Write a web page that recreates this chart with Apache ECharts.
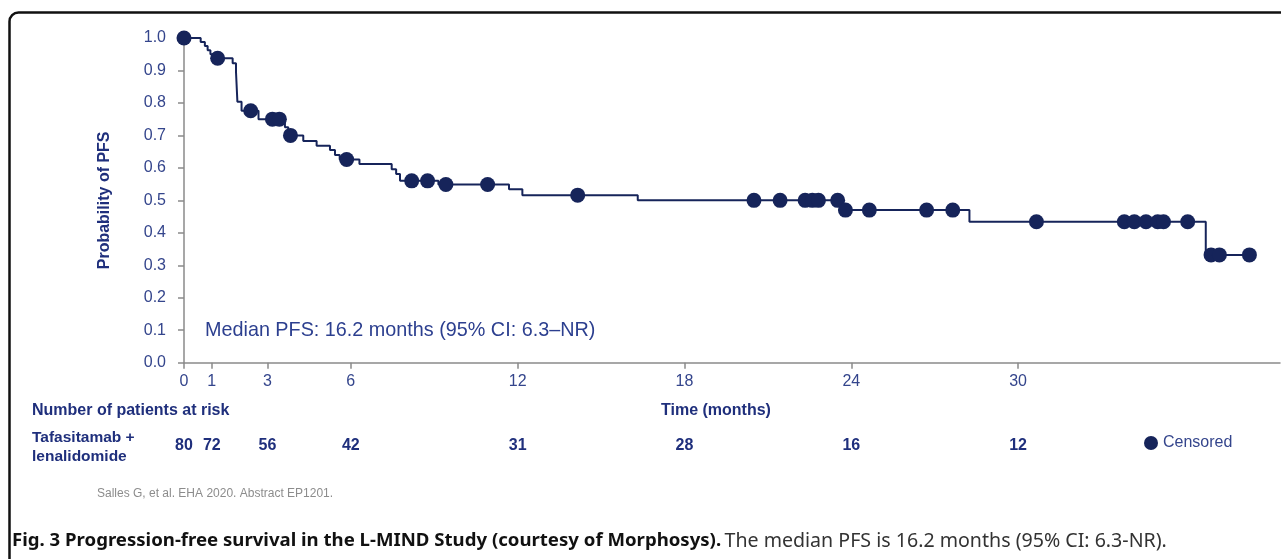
<!DOCTYPE html>
<html>
<head>
<meta charset="utf-8">
<script src="https://cdn.jsdelivr.net/npm/echarts@6/dist/echarts.min.js"></script>
<style>
html,body{margin:0;padding:0;background:#fff;}
#chart{width:1281px;height:559px;}
</style>
</head>
<body>
<div id="chart"></div>
<script>
// Kaplan-Meier step curve (event times in months, survival after event)
const stepTimes = [0, 0.6, 0.75, 0.85, 0.95, 1.05, 1.75, 1.87, 1.92, 2.07, 2.68, 3.63, 3.75, 4.29, 4.77, 5.25, 5.43, 5.6, 6.31, 7.47, 7.63, 7.77, 9.15, 11.69, 12.17, 16.32, 23.66, 28.25, 36.75, 38.32];
const stepSurv  = [1.0, 0.9875, 0.975, 0.9625, 0.95, 0.9375, 0.922, 0.896, 0.804, 0.776, 0.75, 0.725, 0.70, 0.683, 0.668, 0.655, 0.64, 0.626, 0.612, 0.596, 0.581, 0.56, 0.549, 0.534, 0.516, 0.50, 0.47, 0.434, 0.332, 0.332];
// Censored observations
const censorTimes = [0, 1.21, 2.4, 3.18, 3.43, 3.83, 5.85, 8.19, 8.76, 9.42, 10.92, 14.16, 20.5, 21.44, 22.34, 22.6, 22.82, 23.51, 23.79, 24.65, 26.71, 27.65, 30.66, 33.82, 34.18, 34.6, 35.02, 35.23, 36.1, 36.94, 37.24, 38.32];
const censorSurv  = [1.0, 0.9375, 0.776, 0.75, 0.75, 0.70, 0.626, 0.56, 0.56, 0.549, 0.549, 0.516, 0.50, 0.50, 0.50, 0.50, 0.50, 0.50, 0.47, 0.47, 0.47, 0.47, 0.434, 0.434, 0.434, 0.434, 0.434, 0.434, 0.434, 0.332, 0.332, 0.332];
// Axis ticks and numbers at risk
const xTicks = [0, 1, 3, 6, 12, 18, 24, 30];
const atRisk = [80, 72, 56, 42, 31, 28, 16, 12];

const NAVY = '#16245a';
const LABEL = '#34458c';
const BOLD = '#1f2f7c';
const XMAX = 39.42;

const chart = echarts.init(document.getElementById('chart'), null, {renderer: 'canvas'});
const riskMap = {};
xTicks.forEach((t, i) => riskMap[t] = atRisk[i]);

chart.setOption({
  animation: false,
  backgroundColor: '#fff',
  grid: {left: 184, right: 1, top: 38, height: 324.7, containLabel: false},
  legend: {
    data: ['Censored'],
    left: 1139, top: 430,
    icon: 'circle', itemWidth: 14, itemHeight: 14, itemGap: 4,
    textStyle: {color: LABEL, fontSize: 16, fontFamily: 'Liberation Sans'}
  },
  xAxis: [{
    type: 'value', min: 0, max: XMAX,
    axisLine: {lineStyle: {color: '#8a8a8a', width: 1.5}},
    axisTick: {show: true, length: 6, lineStyle: {color: '#8a8a8a', width: 1.5}, customValues: xTicks},
    axisLabel: {customValues: xTicks, color: LABEL, fontSize: 16, fontFamily: 'Liberation Sans', margin: 11},
    splitLine: {show: false}
  }, {
    type: 'value', min: 0, max: XMAX, position: 'bottom', offset: 75,
    axisLine: {show: false}, axisTick: {show: false},
    axisLabel: {customValues: xTicks, color: BOLD, fontSize: 16, fontWeight: 'bold', fontFamily: 'Liberation Sans', margin: 0,
      formatter: v => riskMap[v] !== undefined ? String(riskMap[v]) : ''},
    splitLine: {show: false}
  }],
  yAxis: {
    type: 'value', min: 0, max: 1, interval: 0.1,
    name: 'Probability of PFS', nameLocation: 'middle', nameGap: 71, nameRotate: 90,
    nameTextStyle: {color: BOLD, fontSize: 16, fontWeight: 'bold', fontFamily: 'Liberation Sans'},
    axisLine: {show: true, lineStyle: {color: '#8a8a8a', width: 1.5}},
    axisTick: {show: true, length: 6, lineStyle: {color: '#8a8a8a', width: 1.5}},
    axisLabel: {color: LABEL, fontSize: 16, fontFamily: 'Liberation Sans', margin: 18, formatter: v => v.toFixed(1)},
    splitLine: {show: false}
  },
  series: [{
    name: 'PFS', type: 'line', step: 'end',
    data: stepTimes.map((t, i) => [t, stepSurv[i]]),
    showSymbol: false, symbol: 'none',
    lineStyle: {color: NAVY, width: 2},
    z: 2
  }, {
    name: 'Censored', type: 'scatter',
    data: censorTimes.map((t, i) => [t, censorSurv[i]]),
    symbol: 'circle', symbolSize: 15,
    itemStyle: {color: NAVY, opacity: 1},
    z: 3
  }],
  graphic: [
    {type: 'rect', left: 7, top: 10, shape: {width: 1400, height: 700, r: 9},
     style: {fill: 'none', stroke: '#111', lineWidth: 2.5}, z: 10},
    {type: 'text', left: 205, top: 321,
     style: {text: 'Median PFS: 16.2 months (95% CI: 6.3\u2013NR)', fill: '#2c3f8f', font: '19.8px "Liberation Sans"'}},
    {type: 'text', left: 32, top: 403,
     style: {text: 'Number of patients at risk', fill: BOLD, font: 'bold 16px "Liberation Sans"'}},
    {type: 'text', left: 661, top: 403,
     style: {text: 'Time (months)', fill: BOLD, font: 'bold 16px "Liberation Sans"'}},
    {type: 'text', left: 32, top: 430,
     style: {text: 'Tafasitamab +', fill: BOLD, font: 'bold 15.5px "Liberation Sans"'}},
    {type: 'text', left: 32, top: 449,
     style: {text: 'lenalidomide', fill: BOLD, font: 'bold 15.5px "Liberation Sans"'}},
    {type: 'text', left: 97, top: 488,
     style: {text: 'Salles G, et al. EHA 2020. Abstract EP1201.', fill: '#8c8c8c', font: '12px "Liberation Sans"'}},
    {type: 'text', left: 12, top: 531,
     style: {
       text: '{b|Fig. 3 Progression-free survival in the L-MIND Study (courtesy of Morphosys).} {r|The median PFS is 16.2 months (95% CI: 6.3-NR).}',
       rich: {
         b: {font: 'bold 18.6px "Noto Sans"', fill: '#111'},
         r: {font: '19.6px "Noto Sans"', fill: '#333'}
       }
     }}
  ]
});
</script>
</body>
</html>
